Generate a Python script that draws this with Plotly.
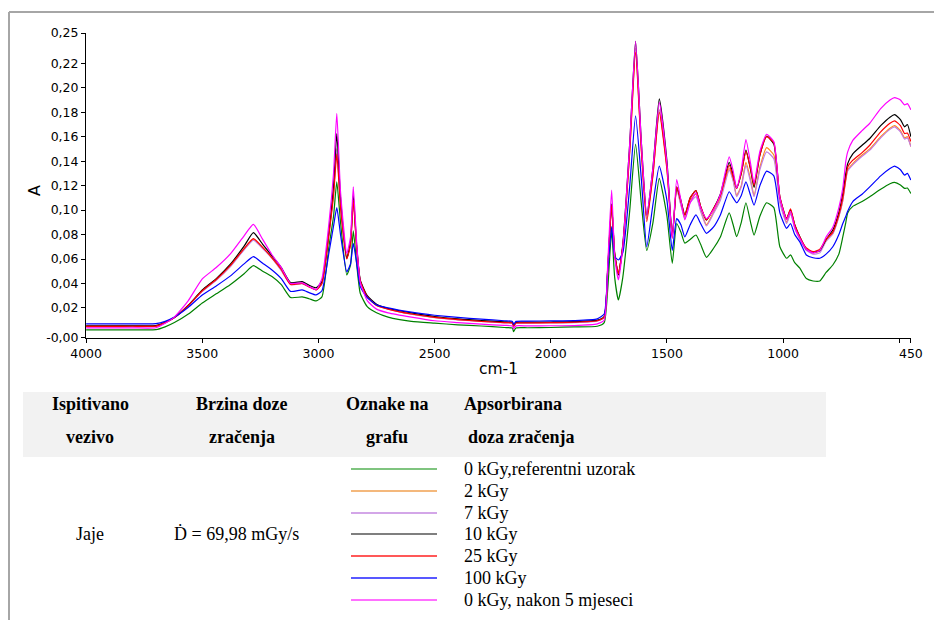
import plotly.graph_objects as go

# page body has an 8px margin: the figure is sized to fit the window and
# reference pixel positions are shifted by that offset
OFF = 8
W, H = 942 - 2 * OFF, 628 - 2 * OFF

# ---------------- data ----------------
wavenumber = [4000,3900,3800,3700,3660,3620,3560,3500,3440,3380,3320,3280,3240,3200,3160,3120,
              3070,3040,3010,2985,2955,2935,2921,2905,2878,2862,2850,2835,2820,2790,2750,2700,
              2600,2500,2400,2300,2200,2165,2160,2150,2100,2000,1900,1800,1770,1755,1738,1725,
              1709,1690,1660,1635,1610,1587,1560,1533,1500,1477,1458,1440,1423,1400,1375,1355,
              1330,1300,1270,1232,1215,1200,1180,1160,1140,1125,1100,1071,1040,1014,985,968,
              950,928,900,871,842,815,786,760,743,730,722,700,660,627,580,540,520,495,477,465,450]

a_0kGy_ref = [.0020,.0020,.0021,.0022,.0045,.0080,.0150,.0240,.0315,.0390,.0480,.0545,
              .0500,.0456,.0390,.0285,.0290,.0275,.0257,.0290,.0700,.0950,.1230,.0900,
              .0470,.0550,.0830,.0550,.0320,.0210,.0160,.0125,.0090,.0075,.0062,.0052,
              .0040,.0035,.0005,.0036,.0038,.0040,.0045,.0050,.0080,.0350,.0830,.0450,
              .0265,.0450,.1000,.1540,.1050,.0670,.0900,.1260,.0950,.0565,.0890,.0820,
              .0730,.0760,.0796,.0720,.0614,.0686,.0780,.0977,.0880,.0782,.0900,.1060,
              .0900,.0796,.0950,.1060,.1020,.0700,.0606,.0633,.0570,.0525,.0440,.0420,
              .0420,.0490,.0551,.0640,.0780,.0900,.0977,.1030,.1070,.1109,.1170,.1215,
              .1226,.1205,.1177,.1180,.1136]

a_2kGy = [.0050,.0050,.0051,.0052,.0080,.0122,.0220,.0340,.0430,.0540,.0680,.0760,
          .0690,.0610,.0510,.0395,.0400,.0375,.0350,.0400,.0800,.1150,.1500,.1050,
          .0610,.0720,.1080,.0680,.0420,.0290,.0225,.0192,.0150,.0123,.0105,.0092,
          .0080,.0076,.0050,.0076,.0077,.0080,.0082,.0095,.0125,.0500,.1040,.0640,
          .0480,.0700,.1500,.2320,.1500,.0930,.1300,.1820,.1350,.0790,.1180,.1050,
          .0940,.1080,.1130,.1000,.0880,.0980,.1100,.1340,.1250,.1120,.1200,.1390,
          .1250,.1120,.1350,.1510,.1450,.1080,.0900,.0980,.0860,.0770,.0680,.0650,
          .0665,.0750,.0810,.0950,.1080,.1250,.1330,.1380,.1450,.1500,.1600,.1670,
          .1690,.1650,.1590,.1600,.1520]

a_7kGy = [.0047,.0047,.0048,.0049,.0078,.0120,.0218,.0335,.0425,.0535,.0675,.0755,
          .0685,.0605,.0505,.0392,.0398,.0372,.0348,.0398,.0800,.1150,.1500,.1050,
          .0612,.0720,.1080,.0680,.0420,.0290,.0222,.0190,.0148,.0120,.0102,.0090,
          .0078,.0074,.0048,.0074,.0075,.0078,.0080,.0092,.0122,.0500,.1040,.0640,
          .0475,.0700,.1500,.2320,.1500,.0930,.1300,.1820,.1350,.0790,.1170,.1040,
          .0930,.1060,.1110,.0990,.0870,.0970,.1080,.1327,.1240,.1110,.1190,.1367,
          .1230,.1110,.1330,.1476,.1420,.1060,.0890,.0970,.0850,.0760,.0670,.0640,
          .0650,.0745,.0805,.0945,.1080,.1250,.1320,.1370,.1440,.1490,.1590,.1660,
          .1680,.1640,.1580,.1590,.1520]

a_10kGy = [.0053,.0053,.0054,.0055,.0082,.0122,.0222,.0347,.0440,.0555,.0705,.0815,
           .0720,.0625,.0530,.0407,.0415,.0385,.0365,.0415,.0820,.1200,.1626,.1100,
           .0606,.0740,.1120,.0700,.0429,.0300,.0230,.0195,.0160,.0130,.0110,.0097,
           .0086,.0082,.0055,.0082,.0083,.0085,.0088,.0100,.0130,.0520,.1050,.0650,
           .0470,.0720,.1550,.2380,.1550,.0960,.1350,.1910,.1400,.0780,.1190,.1080,
           .0960,.1100,.1160,.1030,.0918,.1010,.1130,.1390,.1290,.1177,.1300,.1490,
           .1330,.1185,.1450,.1604,.1540,.1109,.0930,.1000,.0880,.0782,.0680,.0655,
           .0670,.0760,.0837,.0980,.1136,.1300,.1380,.1460,.1530,.1585,.1690,.1760,
           .1780,.1740,.1680,.1700,.1600]

a_25kGy = [.0049,.0049,.0050,.0051,.0080,.0122,.0220,.0340,.0432,.0545,.0685,.0766,
           .0695,.0610,.0515,.0392,.0400,.0372,.0347,.0400,.0800,.1120,.1460,.1020,
           .0600,.0720,.1080,.0680,.0420,.0290,.0220,.0190,.0150,.0122,.0105,.0090,
           .0080,.0076,.0050,.0076,.0077,.0080,.0083,.0095,.0125,.0500,.1040,.0640,
           .0480,.0700,.1480,.2290,.1480,.0905,.1290,.1800,.1330,.0770,.1190,.1070,
           .0960,.1100,.1160,.1030,.0920,.1010,.1120,.1367,.1270,.1177,.1300,.1480,
           .1340,.1200,.1450,.1600,.1550,.1110,.0930,.1010,.0880,.0780,.0690,.0660,
           .0680,.0760,.0820,.0960,.1100,.1260,.1353,.1408,.1470,.1530,.1640,.1710,
           .1730,.1690,.1626,.1630,.1560]

a_100kGy = [.0069,.0069,.0070,.0071,.0090,.0125,.0205,.0306,.0380,.0460,.0560,.0619,
            .0565,.0510,.0440,.0335,.0347,.0325,.0306,.0340,.0649,.0870,.1020,.0800,
            .0496,.0560,.0727,.0560,.0374,.0285,.0225,.0200,.0165,.0140,.0122,.0108,
            .0095,.0090,.0065,.0090,.0092,.0094,.0096,.0110,.0150,.0500,.0864,.0620,
            .0592,.0650,.1200,.1770,.1250,.0700,.1050,.1360,.1080,.0670,.0930,.0880,
            .0780,.0880,.0960,.0890,.0810,.0860,.0960,.1150,.1100,.1060,.1120,.1230,
            .1120,.1040,.1200,.1318,.1280,.0977,.0850,.0890,.0800,.0740,.0633,.0610,
            .0606,.0640,.0700,.0800,.0890,.0950,.0991,.1070,.1130,.1190,.1280,.1340,
            .1360,.1330,.1286,.1300,.1245]

a_0kGy_5mj = [.0036,.0036,.0037,.0038,.0075,.0125,.0260,.0437,.0530,.0640,.0790,.0883,
              .0760,.0635,.0530,.0400,.0405,.0375,.0350,.0440,.0890,.1300,.1790,.1150,
              .0646,.0780,.1190,.0720,.0410,.0260,.0190,.0160,.0125,.0095,.0080,.0067,
              .0057,.0053,.0030,.0053,.0053,.0054,.0056,.0070,.0100,.0550,.1163,.0620,
              .0429,.0700,.1550,.2380,.1550,.0960,.1350,.1880,.1380,.0770,.1250,.1080,
              .0920,.1060,.1140,.1020,.0930,.1000,.1130,.1435,.1320,.1180,.1330,.1577,
              .1380,.1220,.1480,.1620,.1560,.1100,.0920,.0990,.0860,.0770,.0680,.0650,
              .0670,.0780,.0860,.1020,.1180,.1400,.1476,.1570,.1650,.1710,.1830,.1900,
              .1920,.1900,.1860,.1870,.1820]

series_labels = ["0 kGy,referentni uzorak", "2 kGy", "7 kGy", "10 kGy",
                 "25 kGy", "100 kGy", "0 kGy, nakon 5 mjeseci"]
series_values = [a_0kGy_ref, a_2kGy, a_7kGy, a_10kGy, a_25kGy, a_100kGy, a_0kGy_5mj]

y_tick_vals = [-0.0045, 0.02, 0.04, 0.06, 0.08, 0.10, 0.12, 0.14, 0.16, 0.18, 0.20, 0.22, 0.2447]
y_tick_text = ["-0,00", "0,02", "0,04", "0,06", "0,08", "0,10", "0,12", "0,14",
               "0,16", "0,18", "0,20", "0,22", "0,25"]
x_tick_vals = [4000, 3500, 3000, 2500, 2000, 1500, 1000, 500, 450]
x_tick_text = ["4000", "3500", "3000", "2500", "2000", "1500", "1000", "", "450"]

header_col1 = ["Ispitivano", "vezivo"]
header_col2 = ["Brzina doze", "zračenja"]
header_col3 = ["Oznake na", "grafu"]
header_col4 = ["Apsorbirana", "doza zračenja"]
sample_name = "Jaje"
dose_rate = "Ḋ = 69,98 mGy/s"

# ---------------- style ----------------
line_colors = ["#008000", "#FF8C1A", "#C27BE0", "#000000", "#FF0000", "#0000FF", "#FF00FF"]
legend_colors = ["#55B055", "#F0A050", "#C488E0", "#555555", "#FF2020", "#2020FF", "#FF40FF"]


def px_x(p):
    return (p - OFF) / W


def px_y(p):
    return 1 - (p - OFF) / H


fig = go.Figure()
for lab, vals, col in zip(series_labels, series_values, line_colors):
    fig.add_trace(go.Scatter(x=wavenumber, y=vals, mode="lines", name=lab,
                             line=dict(color=col, width=1.2, shape="spline", smoothing=0.5),
                             showlegend=False))

tick_font = dict(family="DejaVu Sans", size=12.5, color="#000000")

fig.update_layout(
    template="none",
    width=W, height=H, autosize=False,
    margin=dict(l=0, r=0, t=0, b=0, pad=0),
    paper_bgcolor="white", plot_bgcolor="white",
    xaxis=dict(domain=[px_x(86), px_x(911)], range=[4000.5, 449.5], automargin=False,
               tickvals=x_tick_vals, ticktext=x_tick_text, ticks="outside", ticklen=4,
               tickcolor="black", showline=True, linecolor="black", linewidth=1,
               showgrid=False, zeroline=False, tickfont=tick_font),
    yaxis=dict(domain=[px_y(338), px_y(33)], range=[-0.0046, 0.2448], automargin=False,
               tickvals=y_tick_vals, ticktext=y_tick_text, ticks="outside", ticklen=4,
               tickcolor="black", showline=True, linecolor="black", linewidth=1,
               showgrid=False, zeroline=False, tickfont=tick_font),
)

shapes = []
annotations = []

# outer frame (top and left visible)
shapes.append(dict(type="line", xref="paper", yref="paper", x0=px_x(9), x1=px_x(960),
                   y0=px_y(12), y1=px_y(12), line=dict(color="#A6A6A6", width=2)))
shapes.append(dict(type="line", xref="paper", yref="paper", x0=px_x(9), x1=px_x(9),
                   y0=px_y(12), y1=px_y(640), line=dict(color="#A6A6A6", width=2)))

# axis titles
annotations.append(dict(text="A", x=px_x(34), y=px_y(191), xref="paper", yref="paper",
                        showarrow=False, textangle=-90, xanchor="center", yanchor="middle",
                        font=dict(family="DejaVu Sans", size=16, color="#000")))
annotations.append(dict(text="cm-1", x=px_x(499), y=px_y(369), xref="paper", yref="paper",
                        showarrow=False, xanchor="center", yanchor="middle",
                        font=dict(family="DejaVu Sans", size=15.5, color="#000")))

# table header background
shapes.append(dict(type="rect", xref="paper", yref="paper", x0=px_x(23), x1=px_x(826),
                   y0=px_y(457), y1=px_y(392), fillcolor="#F2F2F2", line=dict(width=0),
                   layer="below"))

serif_b = dict(family="Liberation Serif, Times New Roman, serif", size=18, color="#000")
serif = dict(family="Liberation Serif, Times New Roman, serif", size=18, color="#000")

head_rows_y = [404, 437]
for col_texts, cx in [(header_col1, 90), (header_col2, 242), (header_col3, 387)]:
    for t, yy in zip(col_texts, head_rows_y):
        annotations.append(dict(text="<b>%s</b>" % t, x=px_x(cx), y=px_y(yy), xref="paper",
                                yref="paper", showarrow=False, xanchor="center",
                                yanchor="middle", font=serif_b))
for t, yy, lx in zip(header_col4, head_rows_y, [462, 466]):
    annotations.append(dict(text="<b>%s</b>" % t, x=px_x(lx), y=px_y(yy), xref="paper",
                            yref="paper", showarrow=False, xanchor="left",
                            yanchor="middle", font=serif_b))

annotations.append(dict(text=sample_name, x=px_x(90), y=px_y(534), xref="paper", yref="paper",
                        showarrow=False, xanchor="center", yanchor="middle", font=serif))
annotations.append(dict(text=dose_rate, x=px_x(236), y=px_y(534), xref="paper", yref="paper",
                        showarrow=False, xanchor="center", yanchor="middle", font=serif))

row_y = [469, 491, 513, 534, 556, 578, 600]
for lab, col, yy in zip(series_labels, legend_colors, row_y):
    shapes.append(dict(type="line", xref="paper", yref="paper", x0=px_x(351), x1=px_x(437),
                       y0=px_y(yy), y1=px_y(yy), line=dict(color=col, width=1.3)))
    annotations.append(dict(text=lab, x=px_x(462), y=px_y(yy), xref="paper", yref="paper",
                            showarrow=False, xanchor="left", yanchor="middle", font=serif))

fig.update_layout(shapes=shapes, annotations=annotations)
fig.write_html("out.html")
